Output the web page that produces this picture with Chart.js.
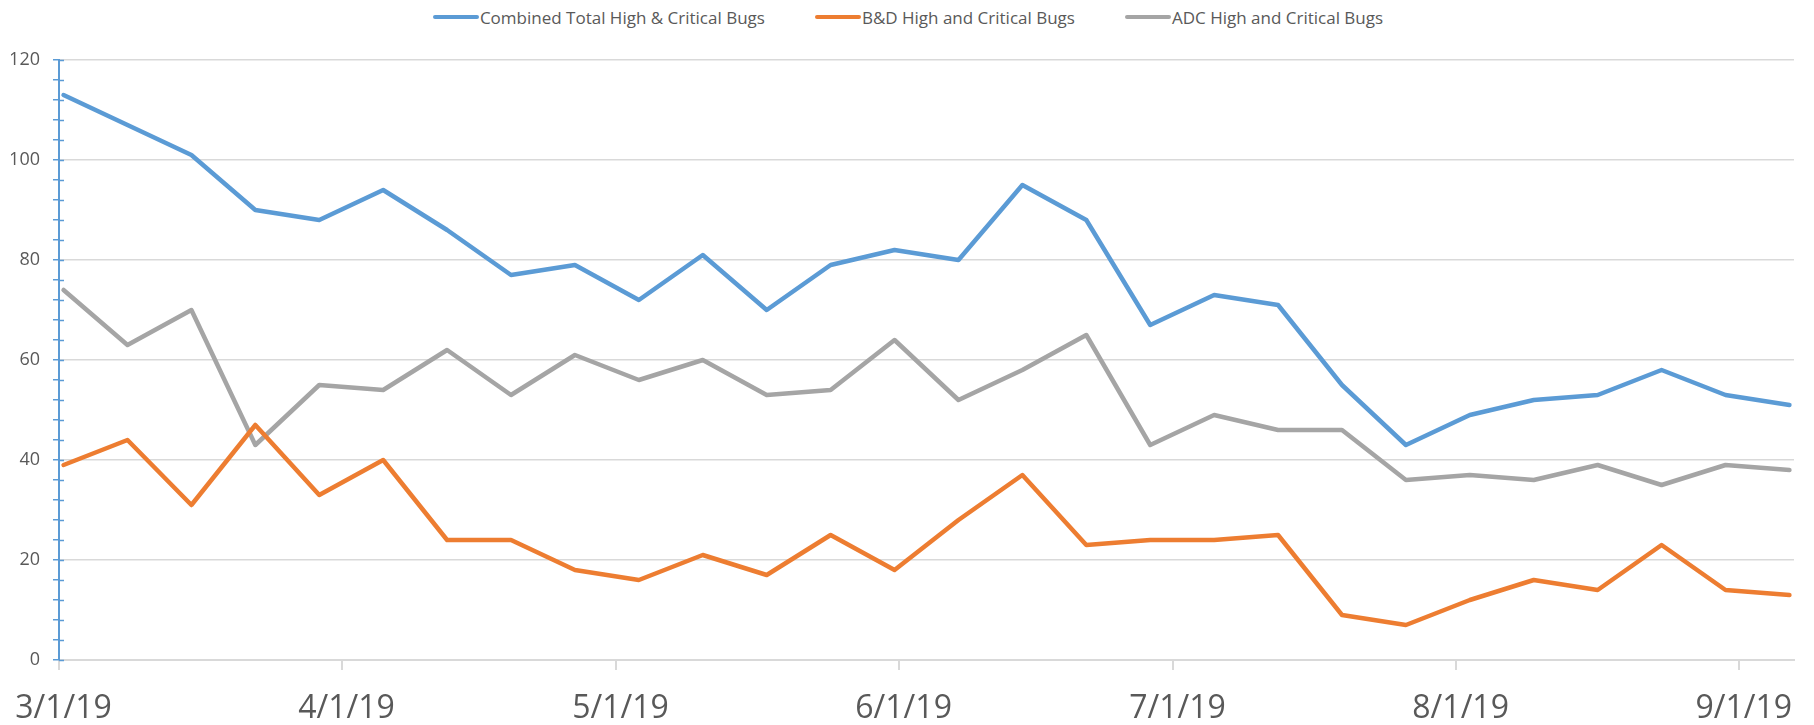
<!DOCTYPE html>
<html>
<head>
<meta charset="utf-8">
<script src="https://cdn.jsdelivr.net/npm/chart.js@4"></script>
<style>
  html, body { margin: 0; padding: 0; background: #fff; }
  #legend {
    height: 34px; width: 1814px; box-sizing: border-box; padding-left: 2px;
    display: flex; justify-content: center; align-items: center; gap: 50px;
    font-family: 'Open Sans', 'DejaVu Sans', sans-serif; font-size: 17px; color: #595959;
  }
  #legend .item { display: flex; align-items: center; white-space: nowrap; }
  #legend .swatch { width: 46px; height: 4px; border-radius: 2px; margin-right: 1px; }
  #wrap { width: 1814px; height: 691px; }
</style>
</head>
<body>
<div id="legend"></div>
<div id="wrap"><canvas id="chart"></canvas></div>
<script>
// weekly snapshots
const weekDates = [
    "2019-03-01", "2019-03-08", "2019-03-15", "2019-03-22", "2019-03-29",
    "2019-04-05", "2019-04-12", "2019-04-19", "2019-04-26",
    "2019-05-03", "2019-05-10", "2019-05-17", "2019-05-24", "2019-05-31",
    "2019-06-07", "2019-06-14", "2019-06-21", "2019-06-28",
    "2019-07-05", "2019-07-12", "2019-07-19", "2019-07-26",
    "2019-08-02", "2019-08-09", "2019-08-16", "2019-08-23", "2019-08-30",
    "2019-09-06",
];

const combinedBugs = [113, 107, 101, 90, 88, 94, 86, 77, 79, 72, 81, 70, 79, 82, 80, 95, 88, 67, 73, 71, 55, 43, 49, 52, 53, 58, 53, 51];
const bdBugs = [39, 44, 31, 47, 33, 40, 24, 24, 18, 16, 21, 17, 25, 18, 28, 37, 23, 24, 24, 25, 9, 7, 12, 16, 14, 23, 14, 13];
const adcBugs = [74, 63, 70, 43, 55, 54, 62, 53, 61, 56, 60, 53, 54, 64, 52, 58, 65, 43, 49, 46, 46, 36, 37, 36, 39, 35, 39, 38];

const seriesNames = ["Combined Total High & Critical Bugs", "B&D High and Critical Bugs", "ADC High and Critical Bugs"];
const seriesColors = ["#5B9BD5", "#ED7D31", "#A5A5A5"];

const monthTicks = ["2019-03-01", "2019-04-01", "2019-05-01", "2019-06-01", "2019-07-01", "2019-08-01", "2019-09-01"];
const monthLabels = ["3/1/19", "4/1/19", "5/1/19", "6/1/19", "7/1/19", "8/1/19", "9/1/19"];
const axisStart = "2019-03-01";
const axisEnd = "2019-09-07";

const FONT = "'Open Sans', 'DejaVu Sans', sans-serif";
const TEXT = "#595959";

const dayOf = (s) => (Date.parse(s) - Date.parse(axisStart)) / 86400000;
// excel puts each point in the middle of its day
const toPoints = (vals) => vals.map((v, i) => ({ x: dayOf(weekDates[i]) + 0.5, y: v }));
const tickDays = monthTicks.map(dayOf);

// legend
const legendEl = document.getElementById("legend");
seriesNames.forEach((name, i) => {
    const item = document.createElement("span");
    item.className = "item";
    const sw = document.createElement("span");
    sw.className = "swatch";
    sw.style.background = seriesColors[i];
    item.appendChild(sw);
    item.appendChild(document.createTextNode(name));
    legendEl.appendChild(item);
});

// small marks crossing into the plot on the value axis
const innerTicks = {
    id: "innerTicks",
    beforeDatasetsDraw(chart) {
        const y = chart.scales.y;
        const ctx = chart.ctx;
        ctx.save();
        ctx.strokeStyle = "#5B9BD5";
        ctx.lineWidth = 1.5;
        y.ticks.forEach((t) => {
            const py = Math.round(y.getPixelForValue(t.value)) + 0.5;
            ctx.beginPath();
            ctx.moveTo(y.right, py);
            ctx.lineTo(y.right + 5, py);
            ctx.stroke();
        });
        ctx.restore();
    },
};

const series = [combinedBugs, bdBugs, adcBugs];

const chart = new Chart(document.getElementById("chart"), {
    type: "line",
    data: {
        datasets: series.map((vals, i) => ({
            label: seriesNames[i],
            data: toPoints(vals),
            borderColor: seriesColors[i],
            backgroundColor: seriesColors[i],
            borderWidth: 4.5,
            pointRadius: 0,
            tension: 0,
            borderJoinStyle: "round",
            borderCapStyle: "round",
        })),
    },
    options: {
        responsive: true,
        maintainAspectRatio: false,
        animation: false,
        layout: { padding: { left: 11, right: 20, top: 26, bottom: 0 } },
        plugins: {
            tooltip: { enabled: false },
            legend: { display: false },
        },
        scales: {
            x: {
                type: "linear",
                min: 0,
                max: dayOf(axisEnd),
                afterBuildTicks: (scale) => {
                    scale.ticks = tickDays.map((d) => ({ value: d }));
                },
                afterFit: (scale) => {
                    scale.height = 65;
                    scale.paddingLeft = 0;
                    scale.paddingRight = 0;
                },
                ticks: {
                    autoSkip: false,
                    maxRotation: 0,
                    padding: 20,
                    labelOffset: 4.5,
                    color: TEXT,
                    font: { family: FONT, size: 32 },
                    callback: (v) => monthLabels[tickDays.indexOf(v)],
                },
                grid: {
                    drawOnChartArea: false,
                    tickLength: 10,
                    tickColor: "#D9D9D9",
                    lineWidth: 2,
                },
                border: { color: "#D9D9D9", width: 2 },
            },
            y: {
                min: 0,
                max: 120,
                afterFit: (scale) => {
                    scale.width = 48;
                },
                ticks: {
                    stepSize: 4,
                    autoSkip: false,
                    padding: 13,
                    color: TEXT,
                    font: { family: FONT, size: 18 },
                    callback: (v) => (v % 20 === 0 ? v : ""),
                },
                grid: {
                    color: (ctx) => (ctx.tick && ctx.tick.value % 20 === 0 && ctx.tick.value > 0 ? "#D9D9D9" : "rgba(0,0,0,0)"),
                    lineWidth: 1.5,
                    tickLength: 6,
                    tickColor: "#5B9BD5",
                    tickWidth: 1.5,
                },
                border: { color: "#5B9BD5", width: 2 },
            },
        },
    },
    plugins: [innerTicks],
});
</script>
</body>
</html>
